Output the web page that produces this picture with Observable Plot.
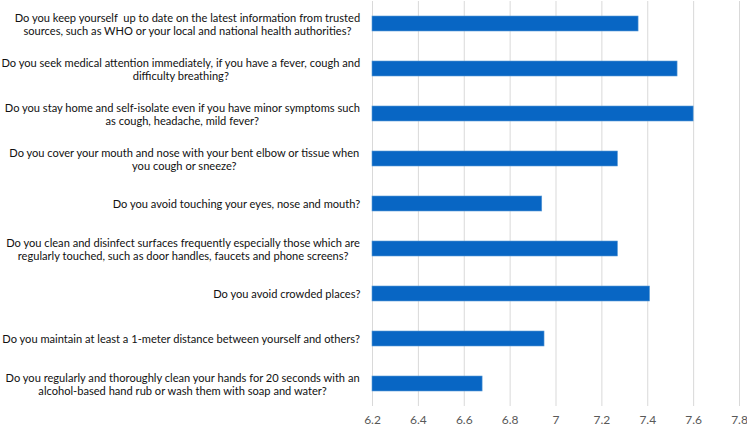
<!DOCTYPE html>
<html><head><meta charset="utf-8">
<script src="https://cdn.jsdelivr.net/npm/d3@7"></script>
<script src="https://cdn.jsdelivr.net/npm/@observablehq/plot@0.6"></script>
<style>body{margin:0;background:#fff} svg{display:block}</style>
</head><body><div id="chart"></div>
<script>
const questions = [
  "Do you keep yourself  up to date on the latest information from trusted\nsources, such as WHO or your local and national health authorities?",
  "Do you seek medical attention immediately, if you have a fever, cough and\ndifficulty breathing?",
  "Do you stay home and self-isolate even if you have minor symptoms such\nas cough, headache, mild fever?",
  "Do you cover your mouth and nose with your bent elbow or tissue when\nyou cough or sneeze?",
  "Do you avoid touching your eyes, nose and mouth?",
  "Do you clean and disinfect surfaces frequently especially those which are\nregularly touched, such as door handles, faucets and phone screens?",
  "Do you avoid crowded places?",
  "Do you maintain at least a 1-meter distance between yourself and others?",
  "Do you regularly and thoroughly clean your hands for 20 seconds with an\nalcohol-based hand rub or wash them with soap and water?"
];
const values = [7.36, 7.53, 7.60, 7.27, 6.94, 7.27, 7.41, 6.95, 6.68];
const xTicks = [6.2, 6.4, 6.6, 6.8, 7.0, 7.2, 7.4, 7.6, 7.8];
const xTickLabels = ["6.2", "6.4", "6.6", "6.8", "7", "7.2", "7.4", "7.6", "7.8"];
const baseline = 6.2;

const data = questions.map((q, i) => ({q, v: values[i]}));
const FONT = "Lato";
const FS = 11.1;
const ctx = document.createElement("canvas").getContext("2d");
ctx.font = `${FS}px ${FONT}`;
const labelMarks = data.map(d => {
  const w = Math.max(...d.q.split("\n").map(l => ctx.measureText(l).width));
  return Plot.text([d], {
    frameAnchor: "left", y: "q", text: "q",
    textAnchor: "middle", lineAnchor: "middle", lineHeight: 1.2,
    dx: -12 - w / 2, fontSize: FS, fontFamily: FONT, fill: "#111"
  });
});

const chart = Plot.plot({
  width: 747, height: 426,
  marginLeft: 372, marginRight: 8, marginTop: 1, marginBottom: 20,
  style: {fontFamily: FONT, background: "#fff"},
  x: {domain: [6.2, 7.8], axis: null, label: null},
  y: {type: "band", domain: questions, paddingInner: 0.667, paddingOuter: 0.333, axis: null},
  marks: [
    Plot.ruleX(xTicks, {stroke: "#d9d9d9", strokeWidth: 1}),
    Plot.barX(data, {x1: () => baseline, x2: "v", y: "q", fill: "#0866c4", stroke: "#5b9bd5", strokeWidth: 0.6}),
    Plot.axisX({ticks: xTicks, tickFormat: (d, i) => xTickLabels[i], tickSize: 0, tickPadding: 9, fontSize: 12, fill: "#595959", fontFamily: FONT, label: null}),
    ...labelMarks
  ]
});
document.getElementById("chart").append(chart);
</script>
</body></html>
